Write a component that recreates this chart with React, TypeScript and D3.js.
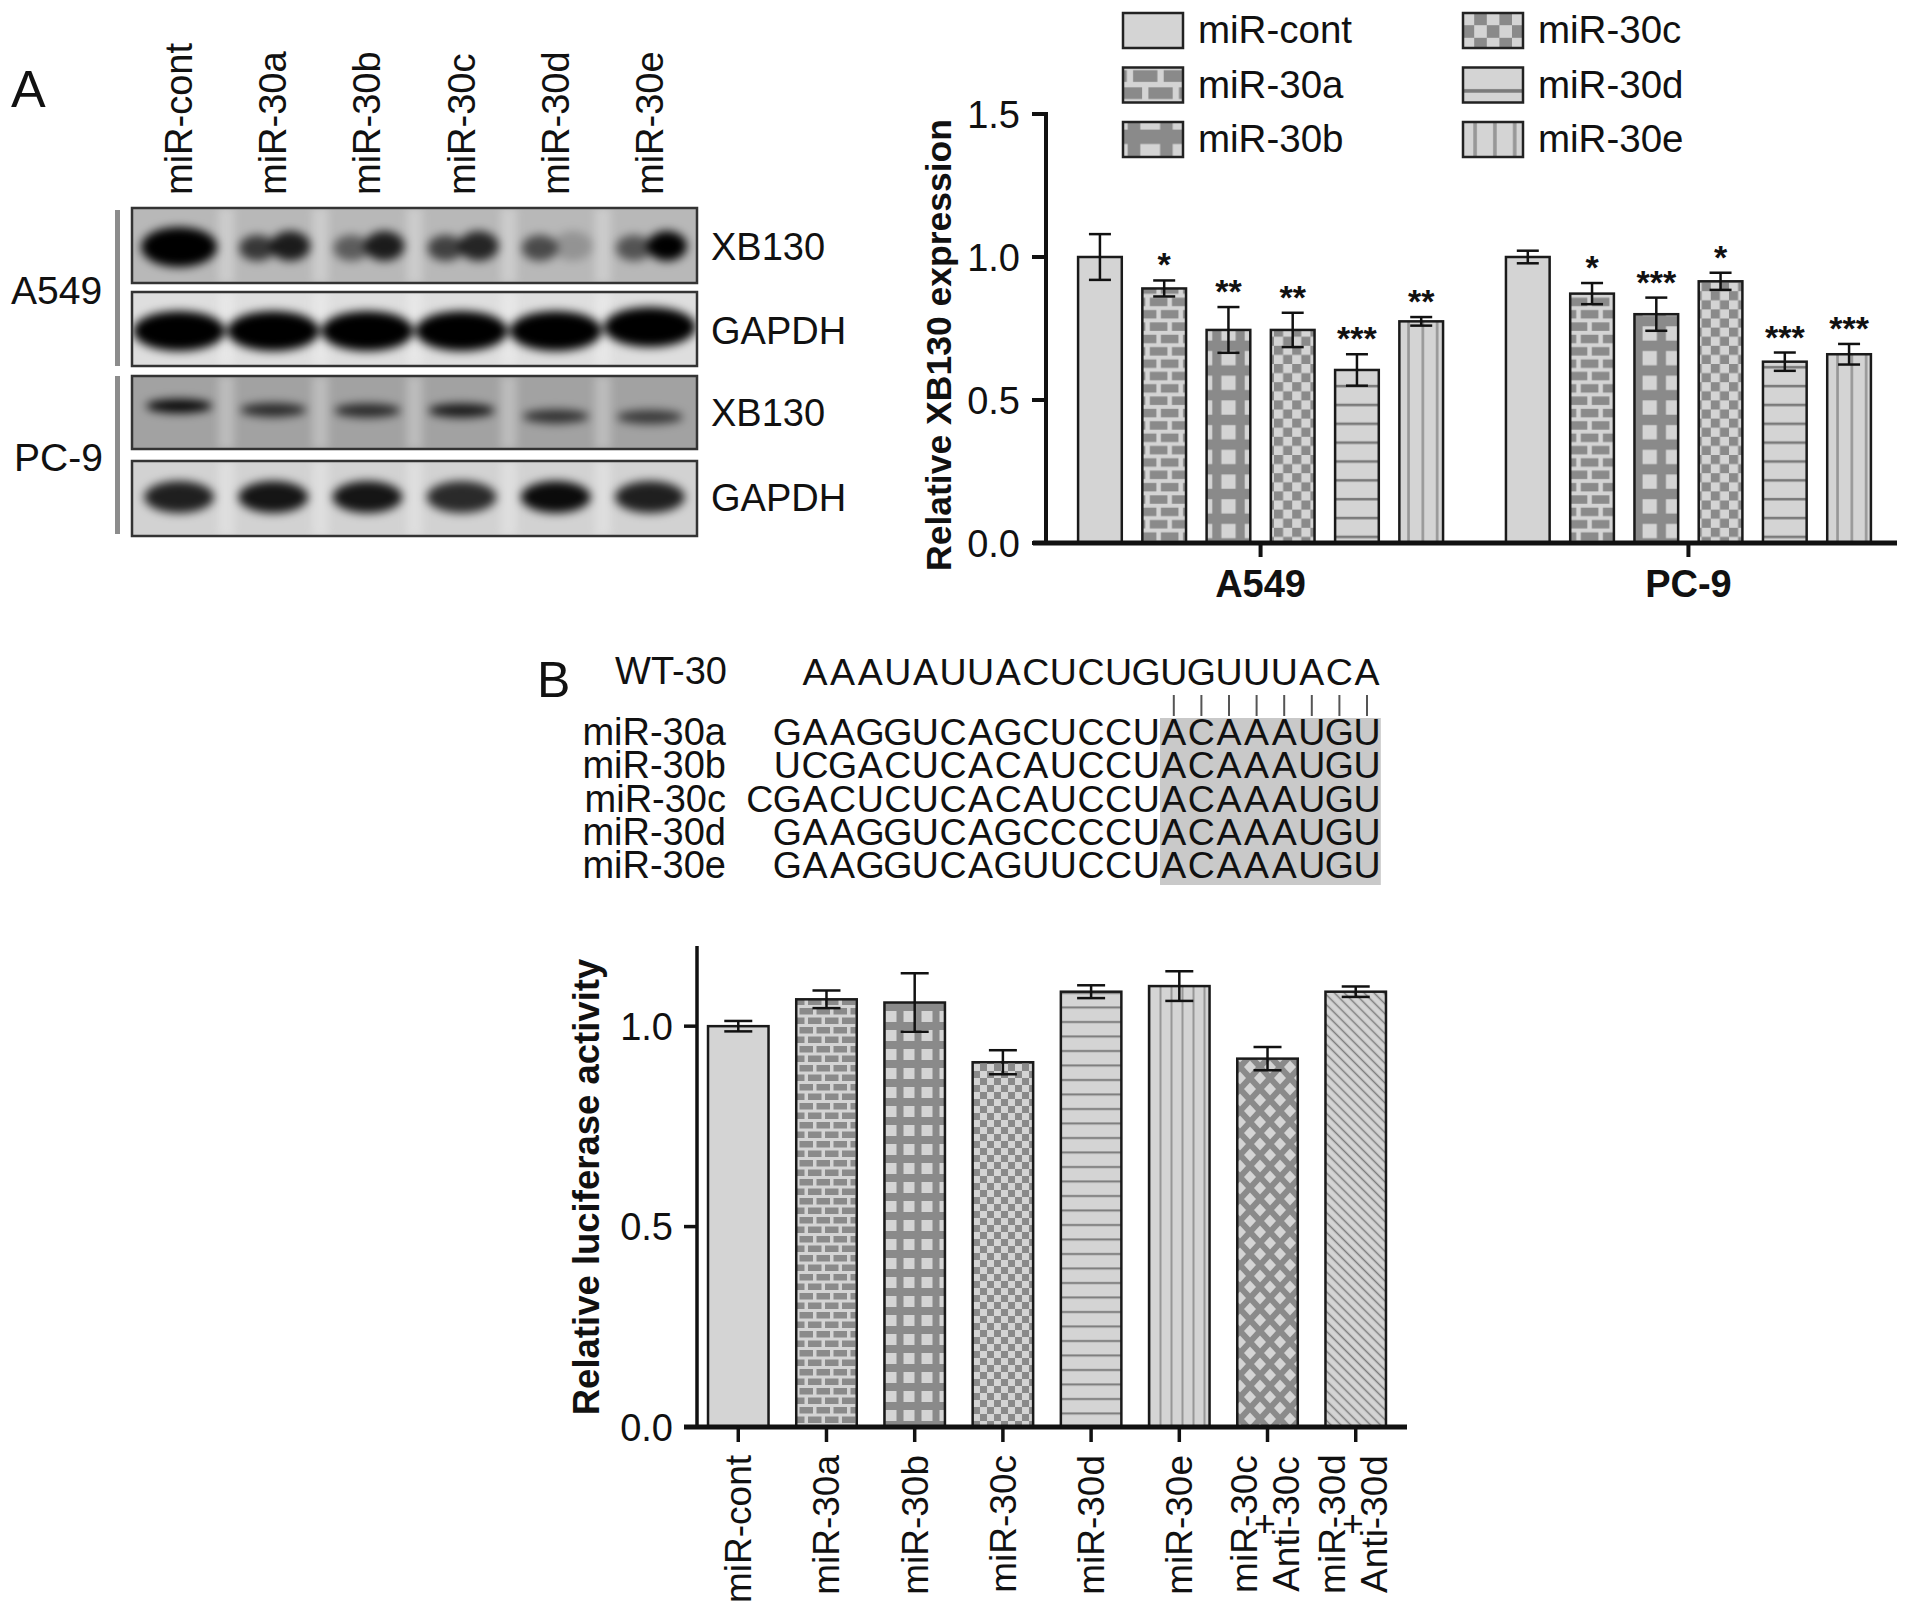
import React from "react";
import * as d3 from "d3";

const FONT = "'Liberation Sans', Arial, Helvetica, sans-serif";
const LIGHT = "#d4d4d4";
const DARK = "#8a8a8a";
const INK = "#111";

// ---- panel A, western blot (band strength 0..1 per lane)
const blotLanes = ["miR-cont", "miR-30a", "miR-30b", "miR-30c", "miR-30d", "miR-30e"];
const a549XbLeft = [1.0, 0.7, 0.5, 0.65, 0.6, 0.55];
const a549XbRight = [1.0, 0.85, 0.85, 0.8, 0.2, 1.0];
const a549Gapdh = [1.0, 1.0, 1.0, 1.0, 1.0, 1.0];
const pc9Xb = [0.95, 0.75, 0.75, 0.85, 0.7, 0.65];
const pc9XbMigration = [0, 0.3, 0.35, 0.35, 0.8, 0.85];
const pc9Gapdh = [0.85, 0.9, 0.9, 0.8, 0.95, 0.85];

// ---- panel A, bar chart
const cellLines = ["A549", "PC-9"];
const treatments = ["miR-cont", "miR-30a", "miR-30b", "miR-30c", "miR-30d", "miR-30e"];
const a549Mean = [1.0, 0.89, 0.745, 0.745, 0.605, 0.775];
const a549Sem = [0.08, 0.028, 0.08, 0.06, 0.055, 0.015];
const a549Sig = ["", "*", "**", "**", "***", "**"];
const pc9Mean = [1.0, 0.872, 0.8, 0.915, 0.634, 0.66];
const pc9Sem = [0.022, 0.037, 0.058, 0.03, 0.032, 0.036];
const pc9Sig = ["", "*", "***", "*", "***", "***"];
const yTicksA = [0, 0.5, 1.0, 1.5];

// ---- panel B, alignment
const wtName = "WT-30";
const wtSeq = "AAAUAUUACUCUGUGUUUACA";
const mirNames = ["miR-30a", "miR-30b", "miR-30c", "miR-30d", "miR-30e"];
const mirSeqs = [
  "GAAGGUCAGCUCCUACAAAUGU",
  "UCGACUCACAUCCUACAAAUGU",
  "CGACUCUCACAUCCUACAAAUGU",
  "GAAGGUCAGCCCCUACAAAUGU",
  "GAAGGUCAGUUCCUACAAAUGU",
];
const seedLength = 8;

// ---- panel B, luciferase
const lucGroups = [
  "miR-cont", "miR-30a", "miR-30b", "miR-30c", "miR-30d", "miR-30e",
  "miR-30c+Anti-30c", "miR-30d+Anti-30d",
];
const lucMean = [1.0, 1.067, 1.059, 0.91, 1.086, 1.1, 0.919, 1.086];
const lucSem = [0.013, 0.022, 0.073, 0.03, 0.016, 0.037, 0.029, 0.013];
const yTicksB = [0, 0.5, 1.0];

const fillKey: Record<string, string> = {
  "miR-cont": "solid",
  "miR-30a": "brick",
  "miR-30b": "grid",
  "miR-30c": "checker",
  "miR-30d": "hline",
  "miR-30e": "vline",
  "miR-30c+Anti-30c": "diamond",
  "miR-30d+Anti-30d": "diag",
};

const fillOf = (name: string, suffix: string) => {
  const k = fillKey[name];
  return k === "solid" ? LIGHT : `url(#${k}${suffix})`;
};

function Patterns({ suffix, scale }: { suffix: string; scale: number }) {
  const t = `scale(${scale})`;
  return (
    <>
      <pattern id={`brick${suffix}`} width={17} height={19} patternUnits="userSpaceOnUse" patternTransform={t}>
        <rect width={17} height={19} fill={LIGHT} />
        <rect x={0.5} y={1} width={13.5} height={6.5} fill={DARK} />
        <rect x={9} y={10.5} width={13.5} height={6.5} fill={DARK} />
        <rect x={-8} y={10.5} width={13.5} height={6.5} fill={DARK} />
      </pattern>
      <pattern id={`grid${suffix}`} width={18} height={19} patternUnits="userSpaceOnUse" patternTransform={t}>
        <rect width={18} height={19} fill={DARK} />
        <rect x={3.5} y={4} width={11} height={11} fill={LIGHT} />
      </pattern>
      <pattern id={`checker${suffix}`} width={14} height={14} patternUnits="userSpaceOnUse" patternTransform={t}>
        <rect width={14} height={14} fill={LIGHT} />
        <rect x={0} y={0} width={7} height={7} fill={DARK} />
        <rect x={7} y={7} width={7} height={7} fill={DARK} />
      </pattern>
      <pattern id={`hline${suffix}`} width={10} height={14.5} patternUnits="userSpaceOnUse" patternTransform={t}>
        <rect width={10} height={14.5} fill={LIGHT} />
        <line x1={0} x2={10} y1={7} y2={7} stroke="#7a7a7a" strokeWidth={2} />
      </pattern>
      <pattern id={`vline${suffix}`} width={11} height={10} patternUnits="userSpaceOnUse" patternTransform={t}>
        <rect width={11} height={10} fill={LIGHT} />
        <line x1={5.5} x2={5.5} y1={0} y2={10} stroke="#979797" strokeWidth={2} />
      </pattern>
      <pattern id={`diamond${suffix}`} width={20} height={22} patternUnits="userSpaceOnUse" patternTransform={t}>
        <rect width={20} height={22} fill={DARK} />
        {[[0, 0], [20, 0], [0, 22], [20, 22], [10, 11]].map(([cx, cy], i) => (
          <polygon
            key={i}
            points={`${cx},${cy - 6.5} ${cx + 6},${cy} ${cx},${cy + 6.5} ${cx - 6},${cy}`}
            fill={LIGHT}
          />
        ))}
      </pattern>
      <pattern
        id={`diag${suffix}`}
        width={10}
        height={7}
        patternUnits="userSpaceOnUse"
        patternTransform={`${t} rotate(45)`}
      >
        <rect width={10} height={7} fill={LIGHT} />
        <line x1={0} x2={10} y1={3.5} y2={3.5} stroke="#7c7c7c" strokeWidth={1.5} />
      </pattern>
    </>
  );
}

const laneX = d3.scaleBand().domain(blotLanes).range([132, 697]);
const migration = d3.scaleLinear().domain([0, 1]).range([0, 13]);

function BlotBox({
  id, y0, y1, bg, children,
}: { id: string; y0: number; y1: number; bg: string; children: React.ReactNode }) {
  return (
    <g>
      <clipPath id={`clip-${id}`}>
        <rect x={132} y={y0} width={565} height={y1 - y0} />
      </clipPath>
      <g clipPath={`url(#clip-${id})`}>
        <rect x={132} y={y0} width={565} height={y1 - y0} fill={bg} />
        {blotLanes.slice(1).map((l) => (
          <rect
            key={l}
            x={(laneX(l) as number) - 8}
            y={y0}
            width={16}
            height={y1 - y0}
            fill="#fff"
            opacity={0.28}
            filter="url(#blur4)"
          />
        ))}
        <g filter="url(#blur5)">{children}</g>
      </g>
      <rect x={132} y={y0} width={565} height={y1 - y0} fill="none" stroke="#333" strokeWidth={2.5} />
    </g>
  );
}

export default function App() {
  // ---- scales panel A chart
  const yA = d3.scaleLinear().domain([0, 1.5]).range([543, 114]);
  const xA = d3.scaleBand().domain(cellLines).range([1046, 1903]).paddingInner(0.147).paddingOuter(0.075);
  const xAin = d3.scaleBand().domain(treatments).range([0, xA.bandwidth()]).paddingInner(0.32);
  const barW = xAin.bandwidth();

  // ---- scales panel B chart
  const yB = d3.scaleLinear().domain([0, 1.2]).range([1427, 946]);
  const xB = d3.scaleBand().domain(lucGroups).range([697, 1397]).paddingInner(0.314).paddingOuter(0.125);
  const barWB = xB.bandwidth();

  const seqRight = 1367;
  const charStep = 27.6;
  const charX = (seq: string, i: number) => seqRight - (seq.length - 1 - i) * charStep;

  const groupsA = [
    { line: "A549", mean: a549Mean, sem: a549Sem, sig: a549Sig },
    { line: "PC-9", mean: pc9Mean, sem: pc9Sem, sig: pc9Sig },
  ];

  return (
    <svg
      width={1913}
      height={1616}
      style={{ position: "absolute", left: 0, top: 0, background: "#fff" }}
      fontFamily={FONT}
    >
      <defs>
        <Patterns suffix="" scale={1} />
        <Patterns suffix="T" scale={1.3} />
        <Patterns suffix="L" scale={1.8} />
        <filter id="blur5" x="-50%" y="-50%" width="200%" height="200%">
          <feGaussianBlur stdDeviation={5} />
        </filter>
        <filter id="blur4" x="-50%" y="-50%" width="200%" height="200%">
          <feGaussianBlur stdDeviation={4} />
        </filter>
      </defs>
      <rect width={1913} height={1616} fill="#fff" />

      {/* ================= Panel A: western blot ================= */}
      <text x={11} y={107} fontSize={52} fill={INK}>A</text>
      {blotLanes.map((l) => (
        <text
          key={l}
          transform={`translate(${(laneX(l) as number) + laneX.bandwidth() / 2 + 13},195) rotate(-90)`}
          fontSize={38}
          fill={INK}
        >
          {l}
        </text>
      ))}

      <BlotBox id="b1" y0={208} y1={283} bg="#b8b8b8">
        {blotLanes.map((l, i) => {
          const cx = (laneX(l) as number) + laneX.bandwidth() / 2;
          if (i === 0)
            return <ellipse key={l} cx={cx} cy={247} rx={38} ry={20} fill="#000" opacity={a549XbLeft[i]} />;
          return (
            <g key={l}>
              <ellipse cx={cx - 16} cy={248} rx={18} ry={13} fill="#000" opacity={a549XbLeft[i]} />
              <ellipse cx={cx + 17} cy={246} rx={20} ry={15} fill="#000" opacity={a549XbRight[i]} />
            </g>
          );
        })}
      </BlotBox>
      <BlotBox id="b2" y0={292} y1={366} bg="#dedede">
        {blotLanes.map((l, i) => {
          const cx = (laneX(l) as number) + laneX.bandwidth() / 2;
          return (
            <ellipse
              key={l}
              cx={cx}
              cy={i === 5 ? 327 : 331}
              rx={46}
              ry={20}
              fill="#000"
              opacity={a549Gapdh[i]}
            />
          );
        })}
      </BlotBox>
      <BlotBox id="b3" y0={376} y1={449} bg="#a2a2a2">
        {blotLanes.map((l, i) => {
          const cx = (laneX(l) as number) + laneX.bandwidth() / 2;
          return (
            <ellipse
              key={l}
              cx={cx}
              cy={406 + migration(pc9XbMigration[i])}
              rx={33}
              ry={7}
              fill="#000"
              opacity={pc9Xb[i]}
            />
          );
        })}
      </BlotBox>
      <BlotBox id="b4" y0={461} y1={536} bg="#d2d2d2">
        {blotLanes.map((l, i) => {
          const cx = (laneX(l) as number) + laneX.bandwidth() / 2;
          return <ellipse key={l} cx={cx} cy={497} rx={35} ry={16} fill="#000" opacity={pc9Gapdh[i]} />;
        })}
      </BlotBox>

      {[
        { t: "XB130", y: 247 },
        { t: "GAPDH", y: 331 },
        { t: "XB130", y: 413 },
        { t: "GAPDH", y: 498 },
      ].map((d, i) => (
        <text key={i} x={711} y={d.y} dy="0.35em" fontSize={38} fill={INK}>
          {d.t}
        </text>
      ))}
      <rect x={115} y={210} width={5} height={156} fill="#8c8c8c" />
      <rect x={115} y={376} width={5} height={158} fill="#8c8c8c" />
      <text x={11} y={290} dy="0.35em" fontSize={39} fill={INK}>A549</text>
      <text x={14} y={457} dy="0.35em" fontSize={39} fill={INK}>PC-9</text>

      {/* ================= Panel A: bar chart ================= */}
      {treatments.map((t, i) => {
        const col = Math.floor(i / 3);
        const row = i % 3;
        const bx = 1123 + col * 340;
        const by = 13 + row * 54.5;
        return (
          <g key={t}>
            <rect x={bx} y={by} width={60} height={35} fill={fillOf(t, "L")} stroke="#222" strokeWidth={2.5} />
            <text x={bx + 75} y={by + 30} fontSize={38.5} fill={INK}>{t}</text>
          </g>
        );
      })}

      {groupsA.map((g) => (
        <g key={g.line}>
          {treatments.map((t, i) => {
            const x = (xA(g.line) as number) + (xAin(t) as number);
            const cx = x + barW / 2;
            const top = yA(g.mean[i]);
            const eTop = yA(g.mean[i] + g.sem[i]);
            const eBot = yA(g.mean[i] - g.sem[i]);
            return (
              <g key={t}>
                <rect
                  x={x}
                  y={top}
                  width={barW}
                  height={yA(0) - top}
                  fill={fillOf(t, "T")}
                  stroke="#1a1a1a"
                  strokeWidth={2.5}
                />
                <g stroke={INK} strokeWidth={2.5}>
                  <line x1={cx} x2={cx} y1={eTop} y2={eBot} />
                  <line x1={cx - 11} x2={cx + 11} y1={eTop} y2={eTop} />
                  <line x1={cx - 11} x2={cx + 11} y1={eBot} y2={eBot} />
                </g>
                {g.sig[i] && (
                  <text x={cx} y={eTop - 4} textAnchor="middle" fontSize={34} fontWeight="bold" fill={INK}>
                    {g.sig[i]}
                  </text>
                )}
              </g>
            );
          })}
        </g>
      ))}

      <line x1={1046} x2={1046} y1={yA(0)} y2={yA(1.5) - 2} stroke={INK} strokeWidth={4} />
      {yTicksA.map((v) => (
        <g key={v}>
          <line x1={1032} x2={1046} y1={yA(v)} y2={yA(v)} stroke={INK} strokeWidth={4} />
          <text x={1020} y={yA(v)} dy="0.36em" textAnchor="end" fontSize={38} fill={INK}>
            {d3.format(".1f")(v)}
          </text>
        </g>
      ))}
      <line x1={1033} x2={1897} y1={yA(0)} y2={yA(0)} stroke={INK} strokeWidth={5} />
      {cellLines.map((c) => {
        const cx = (xA(c) as number) + xA.bandwidth() / 2;
        return (
          <g key={c}>
            <line x1={cx} x2={cx} y1={yA(0)} y2={yA(0) + 14} stroke={INK} strokeWidth={4} />
            <text x={cx} y={597} textAnchor="middle" fontSize={38} fontWeight="bold" fill={INK}>
              {c}
            </text>
          </g>
        );
      })}
      <text
        transform="translate(951,345) rotate(-90)"
        textAnchor="middle"
        fontSize={35.5}
        fontWeight="bold"
        fill={INK}
      >
        Relative XB130 expression
      </text>

      {/* ================= Panel B: alignment ================= */}
      <text x={537} y={697} fontSize={50} fill={INK}>B</text>
      <text x={727} y={684} textAnchor="end" fontSize={38} fill={INK}>{wtName}</text>
      {wtSeq.split("").map((ch, i) => (
        <text key={i} x={charX(wtSeq, i)} y={685} textAnchor="middle" fontSize={37.5} fill={INK}>
          {ch}
        </text>
      ))}
      <rect
        x={seqRight - (seedLength - 0.5) * charStep}
        y={718}
        width={seedLength * charStep}
        height={167}
        fill="#c9c9c9"
      />
      {wtSeq
        .split("")
        .slice(wtSeq.length - seedLength)
        .map((_, k) => {
          const x = charX(wtSeq, wtSeq.length - seedLength + k);
          return <line key={k} x1={x} x2={x} y1={695} y2={716} stroke="#555" strokeWidth={2} />;
        })}
      {mirNames.map((n, r) => {
        const y = 745 + r * 33.3;
        return (
          <g key={n}>
            <text x={726} y={y} textAnchor="end" fontSize={38} fill={INK}>{n}</text>
            {mirSeqs[r].split("").map((ch, i) => (
              <text key={i} x={charX(mirSeqs[r], i)} y={y} textAnchor="middle" fontSize={37.5} fill={INK}>
                {ch}
              </text>
            ))}
          </g>
        );
      })}

      {/* ================= Panel B: luciferase chart ================= */}
      {lucGroups.map((gname, i) => {
        const x = xB(gname) as number;
        const cx = x + barWB / 2;
        const top = yB(lucMean[i]);
        const eTop = yB(lucMean[i] + lucSem[i]);
        const eBot = yB(lucMean[i] - lucSem[i]);
        return (
          <g key={gname}>
            <rect
              x={x}
              y={top}
              width={barWB}
              height={yB(0) - top}
              fill={fillOf(gname, "")}
              stroke="#1a1a1a"
              strokeWidth={2.5}
            />
            <g stroke={INK} strokeWidth={2.5}>
              <line x1={cx} x2={cx} y1={eTop} y2={eBot} />
              <line x1={cx - 14} x2={cx + 14} y1={eTop} y2={eTop} />
              <line x1={cx - 14} x2={cx + 14} y1={eBot} y2={eBot} />
            </g>
          </g>
        );
      })}
      <line x1={697} x2={697} y1={yB(0)} y2={946} stroke={INK} strokeWidth={3.5} />
      {yTicksB.map((v) => (
        <g key={v}>
          <line x1={684} x2={697} y1={yB(v)} y2={yB(v)} stroke={INK} strokeWidth={3.5} />
          <text x={673} y={yB(v)} dy="0.36em" textAnchor="end" fontSize={38} fill={INK}>
            {d3.format(".1f")(v)}
          </text>
        </g>
      ))}
      <line x1={684} x2={1407} y1={yB(0)} y2={yB(0)} stroke={INK} strokeWidth={5} />
      {lucGroups.map((gname) => {
        const cx = (xB(gname) as number) + barWB / 2;
        const parts = gname.split("+");
        return (
          <g key={gname}>
            <line x1={cx} x2={cx} y1={yB(0)} y2={yB(0) + 15} stroke={INK} strokeWidth={3.5} />
            {parts.length === 1 ? (
              <text
                transform={`translate(${cx + 13},1455) rotate(-90)`}
                textAnchor="end"
                fontSize={37}
                fill={INK}
              >
                {gname}
              </text>
            ) : (
              [
                { t: parts[0], dx: -24 },
                { t: "+", dx: -4 },
                { t: parts[1], dx: 18 },
              ].map((p) => (
                <text
                  key={p.t}
                  transform={`translate(${cx + p.dx + 13},1524) rotate(-90)`}
                  textAnchor="middle"
                  fontSize={37}
                  fill={INK}
                >
                  {p.t}
                </text>
              ))
            )}
          </g>
        );
      })}
      <text
        transform="translate(599,1187) rotate(-90)"
        textAnchor="middle"
        fontSize={36.5}
        fontWeight="bold"
        fill={INK}
      >
        Relative luciferase activity
      </text>
    </svg>
  );
}
